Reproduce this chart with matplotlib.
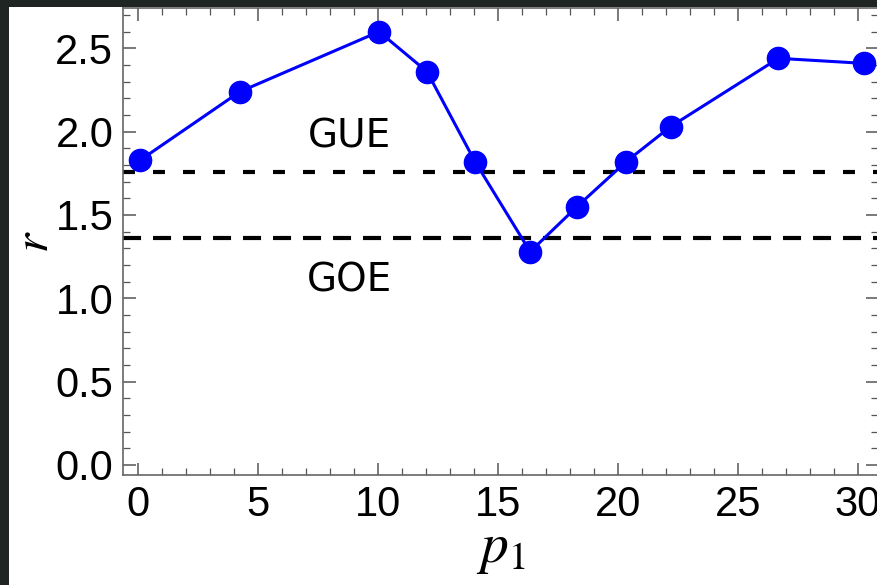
import matplotlib
matplotlib.use("Agg")
import matplotlib.pyplot as plt
from matplotlib.patches import Rectangle
from matplotlib.ticker import MultipleLocator

# data
p1 = [0.1, 4.25, 10.05, 12.05, 14.05, 16.35, 18.3, 20.35, 22.2, 26.7, 30.25]
r = [1.83, 2.24, 2.60, 2.36, 1.82, 1.28, 1.55, 1.82, 2.03, 2.44, 2.41]
gue_level = 1.76
goe_level = 1.36
xticks = [0, 5, 10, 15, 20, 25, 30]
yticks = [0.0, 0.5, 1.0, 1.5, 2.0, 2.5]

plt.rcParams['lines.scale_dashes'] = False
plt.rcParams['mathtext.fontset'] = 'stix'

fig = plt.figure(figsize=(8.77, 5.85), dpi=100, facecolor='#1e2523')
# white page on top of the dark backdrop
fig.patches.append(Rectangle((9 / 877, 0), 1, 1 - 7 / 585, transform=fig.transFigure,
                             facecolor='white', edgecolor='none', zorder=-10))

ax = fig.add_axes([123 / 877, 1 - 475 / 585, 1 - 122 / 877, (475 - 7.5) / 585])
ax.set_facecolor('white')

ax.axhline(gue_level, color='black', lw=3, dashes=(8.6, 13))
ax.axhline(goe_level, color='black', lw=3, dashes=(13, 8.6))
ax.plot(p1, r, color='#0000ff', lw=2.2, marker='o', markersize=16, zorder=3)

ax.text(8.8, 1.97, 'GUE', fontsize=28, ha='center', va='center', family='DejaVu Sans')
ax.text(8.8, 1.11, 'GOE', fontsize=28, ha='center', va='center', family='DejaVu Sans')

ax.set_xlim(-0.625, 30.85)
ax.set_ylim(-0.06, 2.745)
ax.set_xticks(xticks)
ax.set_yticks(yticks)
ax.set_yticklabels([f'{v:.1f}' for v in yticks])
ax.xaxis.set_minor_locator(MultipleLocator(1))
ax.yaxis.set_minor_locator(MultipleLocator(0.1))
ax.tick_params(which='both', direction='in', top=True, right=True, color='#555555')
ax.tick_params(which='major', length=9, width=1.1)
ax.tick_params(which='minor', length=5, width=0.9)
ax.tick_params(axis='both', labelsize=30, pad=7)
for lab in ax.get_xticklabels() + ax.get_yticklabels():
    lab.set_family('Liberation Sans')
for sp in ax.spines.values():
    sp.set_color('#666666')
    sp.set_linewidth(1.2)

ax.set_xlabel('$p_1$', fontsize=40, labelpad=-2)
ax.set_ylabel('$r$', fontsize=36, labelpad=-2)

fig.savefig('out.png', dpi=100, facecolor=fig.get_facecolor())
